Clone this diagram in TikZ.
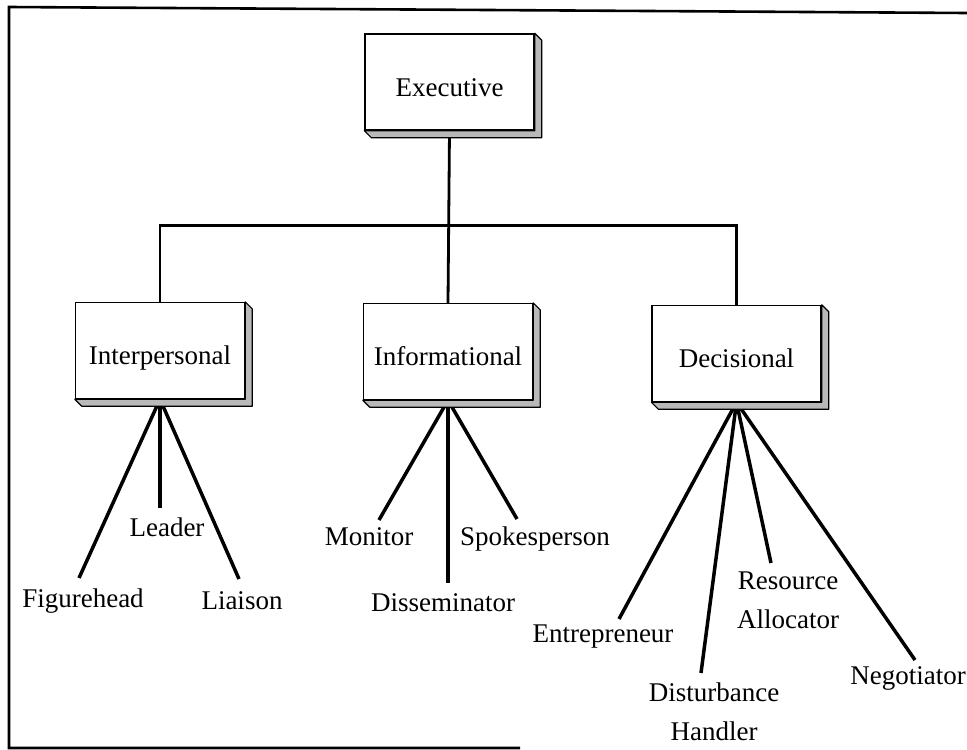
\documentclass[tikz,border=0pt]{standalone}
\usepackage{fontspec}
\setmainfont{Liberation Serif}
\usetikzlibrary{calc}

\tikzset{
  role/.style={rectangle, draw, line width=1.4pt, fill=white,
    minimum width=169pt, minimum height=96pt, inner sep=0pt,
    text height=28pt, text depth=0pt},
  duty/.style={inner sep=0pt, align=center},
  link/.style={line width=3.5pt},
  tie/.style={line width=2.8pt}
}

\begin{document}
\begin{tikzpicture}[x=1pt, y=-1pt, font=\fontsize{27}{39}\selectfont]
  \useasboundingbox (0,0) rectangle (967,750);
  % frame
  \draw [line width=2.6pt] (520,748) -- (9,748) -- (9,7) -- (967,13);

  \node [role] (Exec) at (449.5, 82)  {Executive};
  \node [role] (IP)   at (160, 350.5) {Interpersonal};
  \node [role] (Info) at (448, 351.5) {Informational};
  \node [role] (Dec)  at (736.5, 353.5) {Decisional};

  \node [duty] (Fig)  at (83, 601)  {Figurehead};
  \node [duty] (Lead) at (167, 527) {Leader};
  \node [duty] (Liai) at (242, 601) {Liaison};
  \node [duty] (Mon)  at (369, 537) {Monitor};
  \node [duty] (Diss) at (443, 603) {Disseminator};
  \node [duty] (Spok) at (535, 539) {Spokesperson};
  \node [duty] (Entr) at (603, 637) {Entrepreneur};
  \node [duty] (Dist) at (714, 712) {Disturbance\\Handler};
  \node [duty] (Res)  at (788, 600) {Resource\\Allocator};
  \node [duty] (Nego) at (908, 678) {Negotiator};

  \coordinate (FigEnd)  at (79, 578);
  \coordinate (LeadEnd) at (160, 508);
  \coordinate (LiaiEnd) at (239, 579);
  \coordinate (MonEnd)  at (379, 520);
  \coordinate (DissEnd) at (448, 583);
  \coordinate (SpokEnd) at (517, 519);
  \coordinate (EntrEnd) at (619, 619);
  \coordinate (DistEnd) at (701, 673);
  \coordinate (ResEnd)  at (771, 563);
  \coordinate (NegoEnd) at (915, 660);

  % tree
  \draw [tie] (Exec.south) -- (Info.north);
  \draw [tie] (IP.north) -- ++(0,-76) -| (Dec.north);

  \draw [link] (IP.south) -- (FigEnd);
  \draw [link] (IP.south) -- (LeadEnd);
  \draw [link] (IP.south) -- (LiaiEnd);
  \draw [link] (Info.south) -- (MonEnd);
  \draw [link] (Info.south) -- (DissEnd);
  \draw [link] (Info.south) -- (SpokEnd);
  \draw [link] (Dec.south) -- (EntrEnd);
  \draw [link] (Dec.south) -- (DistEnd);
  \draw [link] (Dec.south) -- (ResEnd);
  \draw [link] (Dec.south) -- (NegoEnd);

  % bevelled edges
  \foreach \b in {Exec, IP, Info, Dec}
    \draw [line width=1.2pt, fill=gray!55, line join=round]
      (\b.south west) -- ++(7,7) -| ($(\b.north east)+(7,7)$)
      -- (\b.north east) -- (\b.south east) -- cycle;
\end{tikzpicture}
\end{document}
